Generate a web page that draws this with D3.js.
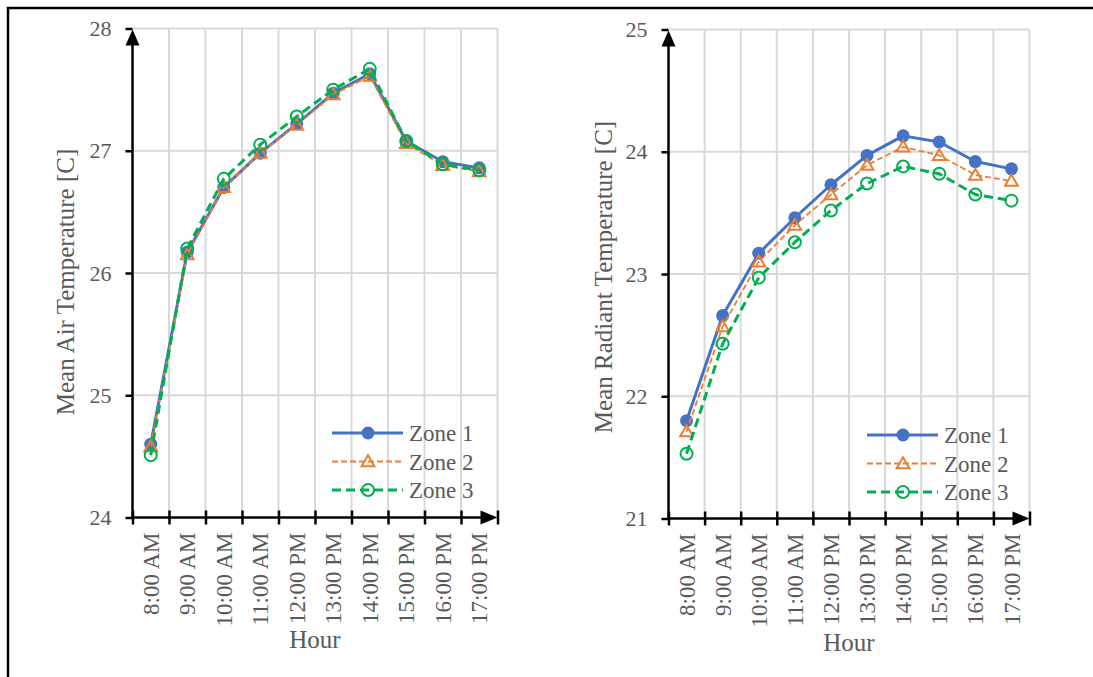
<!DOCTYPE html>
<html>
<head>
<meta charset="utf-8">
<script src="https://cdn.jsdelivr.net/npm/d3@7"></script>
<style>
  body { margin: 0; background: #fff; }
  text { font-family: "Liberation Serif", "Times New Roman", serif; fill: #595959; }
</style>
</head>
<body>
<div id="chart"></div>
<script>
var hours = ['8:00 AM', '9:00 AM', '10:00 AM', '11:00 AM', '12:00 PM', '13:00 PM', '14:00 PM', '15:00 PM', '16:00 PM', '17:00 PM'];
var zoneNames = ['Zone 1', 'Zone 2', 'Zone 3'];

var airZone1 = [24.60, 26.17, 26.70, 26.98, 27.22, 27.47, 27.63, 27.08, 26.91, 26.86];
var airZone2 = [24.58, 26.15, 26.70, 26.98, 27.21, 27.46, 27.61, 27.06, 26.88, 26.83];
var airZone3 = [24.51, 26.20, 26.77, 27.05, 27.28, 27.50, 27.67, 27.08, 26.89, 26.84];
var airTicks = [24, 25, 26, 27, 28];

var radZone1 = [21.80, 22.66, 23.17, 23.46, 23.73, 23.97, 24.13, 24.08, 23.92, 23.86];
var radZone2 = [21.71, 22.57, 23.10, 23.40, 23.65, 23.89, 24.04, 23.97, 23.81, 23.76];
var radZone3 = [21.53, 22.43, 22.97, 23.26, 23.52, 23.74, 23.88, 23.82, 23.65, 23.60];
var radTicks = [21, 22, 23, 24, 25];

var width = 1093;
var height = 677;

var styles = [
  { color: '#4472c4', width: 3, dash: null, marker: 'dot' },
  { color: '#ed7d31', width: 1.8, dash: '6,3', marker: 'triangle' },
  { color: '#00b050', width: 3, dash: '9,5', marker: 'circle' }
];

var svg = d3.select('#chart')
  .append('svg')
  .attr('width', width)
  .attr('height', height);

// outer frame (only left and top visible)
svg.append('path')
  .attr('d', 'M8,' + height + 'V8H' + width)
  .attr('fill', 'none')
  .attr('stroke', '#000')
  .attr('stroke-width', 2.5);

function marker(g, type, x, y, st) {
  if (type === 'dot') {
    g.append('circle').attr('cx', x).attr('cy', y).attr('r', 6.5)
      .attr('fill', st.color);
  } else if (type === 'circle') {
    g.append('circle').attr('cx', x).attr('cy', y).attr('r', 6)
      .attr('fill', 'none').attr('stroke', st.color).attr('stroke-width', 2);
  } else {
    g.append('path')
      .attr('d', d3.symbol(d3.symbolTriangle, 70)())
      .attr('transform', 'translate(' + x + ',' + (y + 1) + ')')
      .attr('fill', 'none').attr('stroke', st.color).attr('stroke-width', 2);
  }
}

function drawPanel(p) {
  var x = d3.scaleBand().domain(hours).range([p.left, p.right]);
  var xb = d3.scaleLinear().domain([0, hours.length]).range([p.left, p.right]);
  var y = d3.scaleLinear().domain(d3.extent(p.ticks)).range([p.bottom, p.top]);

  var g = svg.append('g');

  // gridlines
  g.append('g').selectAll('line')
    .data(p.ticks.slice(1))
    .join('line')
    .attr('x1', p.left).attr('x2', p.right)
    .attr('y1', d => y(d)).attr('y2', d => y(d))
    .attr('stroke', '#d9d9d9').attr('stroke-width', 2);
  g.append('g').selectAll('line')
    .data(d3.range(1, hours.length + 1))
    .join('line')
    .attr('x1', d => xb(d)).attr('x2', d => xb(d))
    .attr('y1', p.top).attr('y2', p.bottom)
    .attr('stroke', '#d9d9d9').attr('stroke-width', 2);

  // series
  var line = d3.line()
    .x((d, i) => x(hours[i]) + x.bandwidth() / 2)
    .y(d => y(d));

  p.series.forEach(function (s, k) {
    var st = styles[k];
    g.append('path')
      .attr('d', line(s))
      .attr('fill', 'none')
      .attr('stroke', st.color)
      .attr('stroke-width', st.width)
      .attr('stroke-linejoin', 'round')
      .attr('stroke-dasharray', st.dash);
    var mg = g.append('g');
    s.forEach(function (v, i) {
      marker(mg, st.marker, x(hours[i]) + x.bandwidth() / 2, y(v), st);
    });
  });

  // y axis
  var yAxis = g.append('g')
    .attr('transform', 'translate(' + p.left + ',0)')
    .call(d3.axisLeft(y).tickValues(p.ticks).tickSize(7).tickPadding(14).tickFormat(d3.format('d')));
  yAxis.select('.domain').remove();
  yAxis.selectAll('line').attr('stroke', '#000').attr('stroke-width', 2.5);
  yAxis.selectAll('text').style('font-size', '22px').attr('fill', '#595959')
    .style('font-family', '"Liberation Serif", serif');

  // x axis ticks crossing the line
  var xAxis = g.append('g')
    .attr('transform', 'translate(0,' + p.bottom + ')')
    .call(d3.axisBottom(xb).tickValues(d3.range(0, hours.length + 1)).tickSize(7).tickFormat(''));
  xAxis.select('.domain').remove();
  xAxis.selectAll('line').attr('y1', -7).attr('stroke', '#000').attr('stroke-width', 2.5);

  g.append('line')
    .attr('x1', p.left).attr('x2', p.left)
    .attr('y1', p.bottom).attr('y2', p.top + 10)
    .attr('stroke', '#000').attr('stroke-width', 2.5);
  g.append('line')
    .attr('x1', p.left).attr('x2', p.right - 10)
    .attr('y1', p.bottom).attr('y2', p.bottom)
    .attr('stroke', '#000').attr('stroke-width', 2.5);

  // arrow heads
  g.append('path')
    .attr('d', 'M' + p.left + ',' + (p.top + 1) + 'l-7,16h14z')
    .attr('fill', '#000');
  g.append('path')
    .attr('d', 'M' + p.right + ',' + p.bottom + 'l-17,-7v14z')
    .attr('fill', '#000');

  // x labels (rotated)
  g.append('g').selectAll('text')
    .data(hours)
    .join('text')
    .attr('transform', d => 'translate(' + (x(d) + x.bandwidth() / 2) + ',' + (p.bottom + 15) + ') rotate(-90)')
    .attr('dy', '0.35em')
    .attr('text-anchor', 'end')
    .style('font-size', '23px')
    .text(d => d);

  // axis titles
  g.append('text')
    .attr('transform', 'translate(' + p.titleX + ',' + p.titleY + ') rotate(-90)')
    .attr('text-anchor', 'middle')
    .attr('dy', '0.35em')
    .style('font-size', '25px')
    .text(p.title);
  g.append('text')
    .attr('x', (p.left + p.right) / 2)
    .attr('y', p.hourY)
    .attr('text-anchor', 'middle')
    .style('font-size', '25px')
    .text('Hour');

  // legend
  zoneNames.forEach(function (name, k) {
    var st = styles[k];
    var ly = p.legY + k * 28.5;
    g.append('line')
      .attr('x1', p.legX).attr('x2', p.legX + 71)
      .attr('y1', ly).attr('y2', ly)
      .attr('stroke', st.color).attr('stroke-width', st.width)
      .attr('stroke-dasharray', st.dash);
    marker(g, st.marker, p.legX + 36, ly, st);
    g.append('text')
      .attr('x', p.legX + 77).attr('y', ly)
      .attr('dy', '0.35em')
      .style('font-size', '23px')
      .text(name);
  });
}

drawPanel({
  left: 132.5, right: 497.5, top: 28.5, bottom: 517.5,
  ticks: airTicks, series: [airZone1, airZone2, airZone3],
  title: 'Mean Air Temperature [C]', titleX: 65, titleY: 282, hourY: 648,
  legX: 332, legY: 433
});

drawPanel({
  left: 668.5, right: 1029.5, top: 29.5, bottom: 518.5,
  ticks: radTicks, series: [radZone1, radZone2, radZone3],
  title: 'Mean Radiant Temperature [C]', titleX: 603, titleY: 277, hourY: 651,
  legX: 867, legY: 435
});
</script>
</body>
</html>
